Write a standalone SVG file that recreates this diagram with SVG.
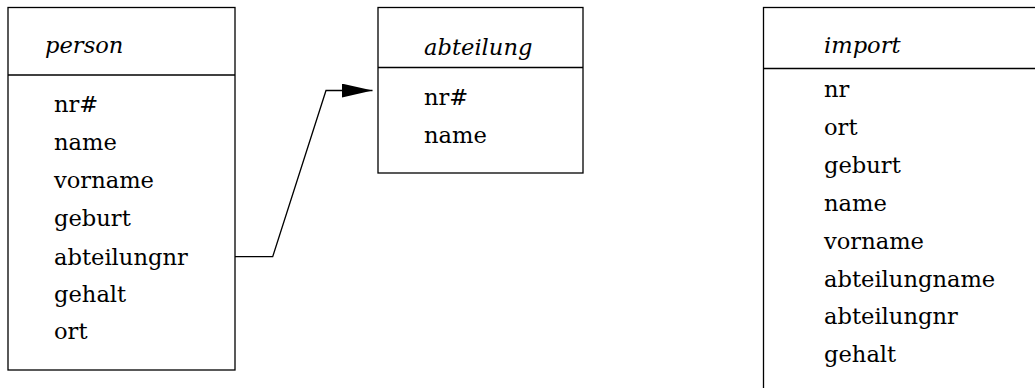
<svg xmlns="http://www.w3.org/2000/svg" width="1035" height="388" viewBox="0 0 1035 388">
<style>
.box{fill:#fff;stroke:#000;stroke-width:1.3}
.div{stroke:#000;stroke-width:1.3}
.conn{fill:none;stroke:#000;stroke-width:1.3}
text{font-family:"DejaVu Serif",serif;font-size:22.6px;fill:#000}
.title{font-style:italic}
</style>
<defs>
<marker id="arrow" markerUnits="userSpaceOnUse" markerWidth="32" markerHeight="16" refX="31" refY="7" orient="auto">
<path d="M0,0 L31,7 L0,14 Z" fill="#000"/>
</marker>
</defs>
<rect width="1035" height="388" fill="#fff"/>
<g id="person">
<rect class="box" x="8" y="7.5" width="227" height="362.5"/>
<line class="div" x1="8" y1="75" x2="235" y2="75"/>
<text class="title" x="45" y="53">person</text>
<text x="54" y="112">nr#</text>
<text x="54" y="150">name</text>
<text x="54" y="188">vorname</text>
<text x="54" y="226">geburt</text>
<text x="54" y="265">abteilungnr</text>
<text x="54" y="302">gehalt</text>
<text x="54" y="339">ort</text>
</g>
<g id="abteilung">
<rect class="box" x="378" y="7.5" width="205" height="165.5"/>
<line class="div" x1="378" y1="67.5" x2="583" y2="67.5"/>
<text class="title" x="424" y="55">abteilung</text>
<text x="424" y="105">nr#</text>
<text x="424" y="143">name</text>
</g>
<g id="import">
<rect class="box" x="763.5" y="7.5" width="290" height="400"/>
<line class="div" x1="763.5" y1="68.5" x2="1035" y2="68.5"/>
<text class="title" x="824" y="53">import</text>
<text x="824" y="97">nr</text>
<text x="824" y="135">ort</text>
<text x="824" y="173">geburt</text>
<text x="824" y="211">name</text>
<text x="824" y="249">vorname</text>
<text x="824" y="287">abteilungname</text>
<text x="824" y="324">abteilungnr</text>
<text x="824" y="362">gehalt</text>
</g>
<g id="connectors">
<polyline class="conn" points="235,256.7 272.7,256.7 326,90.5 372.5,90.5" marker-end="url(#arrow)"/>
</g>
</svg>
